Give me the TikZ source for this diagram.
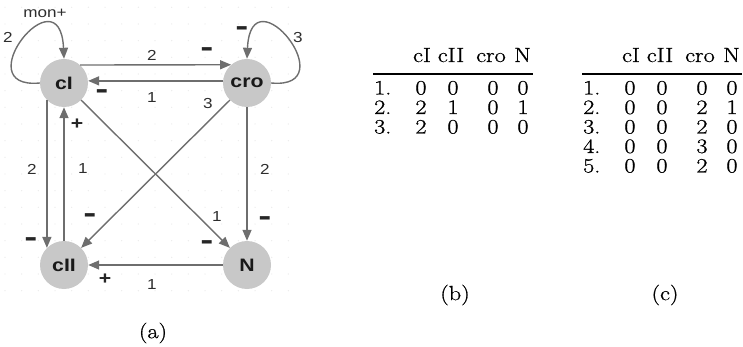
\documentclass[tikz,border=0pt]{standalone}
\usepackage{fontspec}
\usepackage{graphicx}
\usetikzlibrary{arrows.meta}
\newfontfamily\arialf{Liberation Sans}
\newfontfamily\lmheavy{Latin Modern Roman}[FakeBold=0.8]
\newcommand\sxx[1]{\scalebox{1.18}[1]{#1}}
\newcommand\mns{\scalebox{1.1}[1.9]{–}}
\definecolor{nodegray}{RGB}{200,200,200}
\definecolor{edgegray}{RGB}{110,110,110}
\definecolor{labgray}{RGB}{45,45,45}
\newcommand\trow[8]{%
  \node[cell,anchor=base west] (#1l) at ({#2+374},#3) {\sxx{#4}};
  \node[cell] (#1a) at ({#2+421},#3) {\sxx{#5}};
  \node[cell] (#1b) at ({#2+453},#3) {\sxx{#6}};
  \node[cell] (#1c) at ({#2+493},#3) {\sxx{#7}};
  \node[cell] (#1d) at ({#2+523},#3) {\sxx{#8}};
}
\newcommand\thead[2]{%
  \node[cell] (#1h1) at ({#2+422},62) {\sxx{cI}};
  \node[cell] (#1h2) at ({#2+451},62) {\sxx{cII}};
  \node[cell] (#1h3) at ({#2+491},62) {\sxx{cro}};
  \node[cell] (#1h4) at ({#2+522.5},62) {\sxx{N}};
  \draw[line width=1.6pt] ({#2+373},74) -- ({#2+533},74);
}
\begin{document}
\begin{tikzpicture}[x=1pt,y=-1pt,
  vnode/.style={circle,minimum size=48pt,inner sep=0pt,fill=nodegray,text=black!90,
    font=\arialf\bfseries\fontsize{18}{20}\selectfont},
  edge/.style={draw=edgegray,line width=1.4pt,-{Triangle[length=11pt,width=9pt]}},
  elab/.style={font=\arialf\fontsize{14.5}{16}\selectfont,text=labgray,inner sep=0pt},
  sgn/.style={font=\arialf\bfseries\fontsize{18}{20}\selectfont,text=black!85,inner sep=0pt},
  cell/.style={font=\lmheavy\fontsize{20.5}{24}\selectfont,inner sep=0pt,anchor=base},
  captext/.style={font=\lmheavy\fontsize{20.5}{24}\selectfont,inner sep=0pt},
]
\useasboundingbox (0,0) rectangle (743,347);
% faint grid of the drawing tool
\foreach \i in {0,...,17}
  \foreach \j in {0,...,17}
    \fill[gray!16] ({5+16.67*\i},{7.3+16.67*\j}) circle (0.7);

% nodes
\node[vnode] (cI)  at (64,83)  {\sxx{cI}};
\node[vnode] (cro) at (247,83) {\sxx{cro}};
\node[vnode] (cII) at (64,265) {\sxx{cII}};
\node[vnode] (N)   at (247,265) {\sxx{N}};

% edges
\draw[edge] (cI.48.6) -- (cro.131.4);
\draw[edge] (cro.175) -- (cI.5);
\draw[edge] (cI.225) -- (cII.135);
\draw[edge] (cII.north) -- (cI.south);
\draw[edge] (cI.-45) -- (N.135);
\draw[edge] (cro.225) -- (cII.45);
\draw[edge] (cro.south) -- (N.north);
\draw[edge] (N.west) -- (cII.east);
\draw[edge] (cI.west) .. controls +(-75,7) and +(-4,-89) .. (cI.north);
\draw[edge] (cro.east) .. controls +(75,7) and +(4,-89) .. (cro.north);

% labels
\node[elab] (lmon) at (45,13) {\sxx{mon+}};
\node[elab] (l1) at (8,37) {\sxx{2}};
\node[sgn]  (s1) at (242,32) {\mns};
\node[elab] (l2) at (298,38) {\sxx{3}};
\node[elab] (l3) at (152,55) {\sxx{2}};
\node[sgn]  (s2) at (207,53) {\mns};
\node[elab] (l4) at (152,98) {\sxx{1}};
\node[sgn]  (s3) at (102,95) {\mns};
\node[elab] (l5) at (208,104) {\sxx{3}};
\node[sgn]  (s4) at (77,124) {\sxx{+}};
\node[elab] (l6) at (32,169) {\sxx{2}};
\node[elab] (l7) at (83,169) {\sxx{1}};
\node[elab] (l8) at (265,169) {\sxx{2}};
\node[sgn]  (s5) at (90,219) {\mns};
\node[elab] (l9) at (217,217) {\sxx{1}};
\node[sgn]  (s6) at (265,222) {\mns};
\node[sgn]  (s7) at (31,243) {\mns};
\node[sgn]  (s8) at (207,246) {\mns};
\node[sgn]  (s9) at (105,279) {\sxx{+}};
\node[elab] (l10) at (152,285) {\sxx{1}};

\node[captext] (capa) at (153,333) {\sxx{(a)}};

% table (b)
\thead{b}{0}
\trow{b1}{0}{94.5}{1.}{0}{0}{0}{0}
\trow{b2}{0}{114}{2.}{2}{1}{0}{1}
\trow{b3}{0}{133.5}{3.}{2}{0}{0}{0}
\node[captext] (capb) at (455,295) {\sxx{(b)}};

% table (c)
\thead{c}{209}
\trow{c1}{209}{94.5}{1.}{0}{0}{0}{0}
\trow{c2}{209}{114}{2.}{0}{0}{2}{1}
\trow{c3}{209}{133.5}{3.}{0}{0}{2}{0}
\trow{c4}{209}{153}{4.}{0}{0}{3}{0}
\trow{c5}{209}{172.5}{5.}{0}{0}{2}{0}
\node[captext] (capc) at (665,295) {\sxx{(c)}};
\end{tikzpicture}
\end{document}
